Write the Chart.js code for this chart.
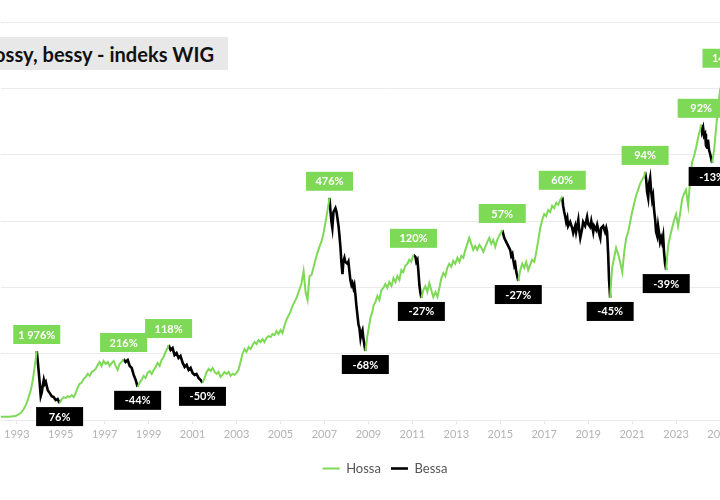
<!DOCTYPE html>
<html>
<head>
<meta charset="utf-8">
<script src="https://cdn.jsdelivr.net/npm/chart.js@4.4.1/dist/chart.umd.min.js"></script>
<style>
    html, body { margin: 0; padding: 0; background: #fff; overflow: hidden; width: 720px; height: 500px; }
    #wrap { position: absolute; left: 0; top: 0; width: 770px; height: 500px; }
    #title {
        position: absolute; left: 0; top: 37px; width: 228px; height: 33px;
        background: #e8e8e8; display: flex; justify-content: flex-end; align-items: center;
        overflow: hidden; padding-right: 14px; box-sizing: border-box;
        font: bold 20.1px Lato, sans-serif; color: #111; white-space: nowrap;
    }
</style>
</head>
<body>
<div id="wrap"><canvas id="wigChart" width="770" height="500"></canvas></div>
<div id="title"><span>Hossy, bessy - indeks WIG</span></div>
<script>
// WIG index
const years = [
    1992.27, 1992.64, 1992.95, 1993.18, 1993.32, 1993.41, 1993.50, 1993.55, 1993.64, 1993.68,
    1993.73, 1993.77, 1993.82, 1993.86, 1993.91, 1993.95, 1994.00, 1994.05, 1994.09, 1994.14,
    1994.18, 1994.23, 1994.27, 1994.32, 1994.41, 1994.50, 1994.59, 1994.68, 1994.77, 1994.86,
    1994.95, 1995.05, 1995.14, 1995.23, 1995.32, 1995.41, 1995.50, 1995.59, 1995.68, 1995.77,
    1995.86, 1995.95, 1996.05, 1996.14, 1996.23, 1996.32, 1996.41, 1996.50, 1996.59, 1996.68,
    1996.77, 1996.86, 1996.95, 1997.05, 1997.14, 1997.23, 1997.32, 1997.41, 1997.50, 1997.59,
    1997.68, 1997.77, 1997.86, 1997.95, 1998.05, 1998.14, 1998.23, 1998.32, 1998.41, 1998.50,
    1998.59, 1998.68, 1998.77, 1998.86, 1998.95, 1999.05, 1999.14, 1999.23, 1999.32, 1999.41,
    1999.50, 1999.59, 1999.68, 1999.77, 1999.86, 1999.91, 2000.00, 2000.09, 2000.18, 2000.27,
    2000.36, 2000.45, 2000.55, 2000.64, 2000.73, 2000.82, 2000.91, 2001.00, 2001.09, 2001.18,
    2001.27, 2001.36, 2001.45, 2001.55, 2001.64, 2001.73, 2001.82, 2001.91, 2002.00, 2002.09,
    2002.18, 2002.27, 2002.36, 2002.45, 2002.55, 2002.64, 2002.73, 2002.82, 2002.91, 2003.00,
    2003.09, 2003.18, 2003.27, 2003.36, 2003.45, 2003.55, 2003.64, 2003.73, 2003.82, 2003.91,
    2004.00, 2004.09, 2004.18, 2004.27, 2004.36, 2004.45, 2004.55, 2004.64, 2004.73, 2004.82,
    2004.91, 2005.00, 2005.09, 2005.18, 2005.27, 2005.36, 2005.45, 2005.55, 2005.64, 2005.73,
    2005.82, 2005.95, 2006.05, 2006.14, 2006.23, 2006.32, 2006.41, 2006.50, 2006.59, 2006.68,
    2006.77, 2006.86, 2006.95, 2007.05, 2007.14, 2007.23, 2007.27, 2007.32, 2007.36, 2007.41,
    2007.50, 2007.55, 2007.59, 2007.64, 2007.68, 2007.73, 2007.77, 2007.82, 2007.86, 2007.91,
    2007.95, 2008.05, 2008.09, 2008.14, 2008.18, 2008.23, 2008.27, 2008.32, 2008.36, 2008.41,
    2008.45, 2008.50, 2008.55, 2008.59, 2008.64, 2008.68, 2008.73, 2008.77, 2008.82, 2008.86,
    2008.91, 2008.95, 2009.00, 2009.09, 2009.18, 2009.23, 2009.32, 2009.41, 2009.50, 2009.59,
    2009.68, 2009.77, 2009.86, 2009.95, 2010.05, 2010.14, 2010.23, 2010.32, 2010.41, 2010.50,
    2010.59, 2010.68, 2010.77, 2010.86, 2010.95, 2011.05, 2011.14, 2011.18, 2011.23, 2011.27,
    2011.32, 2011.36, 2011.41, 2011.50, 2011.59, 2011.68, 2011.77, 2011.86, 2011.95, 2012.05,
    2012.14, 2012.23, 2012.32, 2012.41, 2012.50, 2012.59, 2012.68, 2012.77, 2012.86, 2012.95,
    2013.05, 2013.14, 2013.23, 2013.32, 2013.41, 2013.50, 2013.59, 2013.68, 2013.77, 2013.86,
    2013.95, 2014.05, 2014.14, 2014.23, 2014.32, 2014.41, 2014.50, 2014.59, 2014.68, 2014.77,
    2014.86, 2014.95, 2015.05, 2015.09, 2015.18, 2015.27, 2015.36, 2015.45, 2015.50, 2015.55,
    2015.59, 2015.64, 2015.68, 2015.73, 2015.77, 2015.82, 2015.91, 2016.00, 2016.09, 2016.18,
    2016.27, 2016.36, 2016.45, 2016.55, 2016.64, 2016.73, 2016.82, 2016.91, 2017.00, 2017.09,
    2017.18, 2017.27, 2017.36, 2017.45, 2017.55, 2017.64, 2017.73, 2017.82, 2017.86, 2017.91,
    2017.95, 2018.00, 2018.05, 2018.09, 2018.18, 2018.27, 2018.32, 2018.41, 2018.45, 2018.55,
    2018.59, 2018.64, 2018.73, 2018.77, 2018.86, 2018.95, 2019.00, 2019.09, 2019.14, 2019.23,
    2019.27, 2019.36, 2019.41, 2019.50, 2019.55, 2019.59, 2019.68, 2019.77, 2019.82, 2019.86,
    2019.91, 2019.95, 2020.00, 2020.05, 2020.09, 2020.18, 2020.27, 2020.36, 2020.45, 2020.55,
    2020.64, 2020.73, 2020.82, 2020.91, 2021.00, 2021.09, 2021.18, 2021.27, 2021.36, 2021.45,
    2021.55, 2021.59, 2021.64, 2021.68, 2021.73, 2021.77, 2021.82, 2021.86, 2021.91, 2021.95,
    2022.00, 2022.05, 2022.09, 2022.14, 2022.18, 2022.23, 2022.27, 2022.32, 2022.36, 2022.41,
    2022.45, 2022.50, 2022.55, 2022.59, 2022.64, 2022.73, 2022.82, 2022.91, 2023.00, 2023.09,
    2023.18, 2023.27, 2023.36, 2023.45, 2023.55, 2023.64, 2023.73, 2023.82, 2023.91, 2024.00,
    2024.09, 2024.14, 2024.18, 2024.23, 2024.27, 2024.32, 2024.36, 2024.41, 2024.45, 2024.50,
    2024.55, 2024.59, 2024.64, 2024.73, 2024.82, 2024.91, 2025.00, 2025.09, 2025.18, 2025.27,
    2025.36
];
const wig = [
    1000, 1000, 1200, 2100, 3300, 4500, 6000, 7200, 9000, 10300,
    12100, 13900, 16300, 18100, 20800, 18100, 14500, 10600, 7200, 8400,
    10300, 12100, 10900, 11500, 9000, 8100, 7200, 6900, 6000, 6300,
    5100, 6300, 6900, 6600, 7200, 6900, 7500, 6900, 8100, 9700,
    10900, 11200, 12400, 13000, 13900, 13300, 14500, 14800, 15400, 16600,
    17500, 16300, 17800, 16900, 17500, 16300, 17200, 17800, 16300, 15100,
    16900, 17500, 18400, 17500, 18100, 16300, 15700, 13600, 12100, 10000,
    11200, 12100, 13300, 12700, 14200, 14800, 13900, 15100, 16000, 17200,
    16300, 18100, 19000, 20500, 21700, 22600, 21100, 21700, 19600, 20200,
    18700, 19300, 17200, 16000, 16600, 15100, 15700, 14200, 13600, 13900,
    12700, 12100, 11200, 12700, 14500, 15400, 14800, 15700, 14500, 13900,
    14500, 13000, 13600, 14500, 13900, 14500, 13300, 13900, 13600, 14200,
    15100, 17500, 19900, 21400, 20500, 22000, 21400, 22600, 23500, 22900,
    24100, 23500, 24400, 23500, 24700, 25300, 25000, 25900, 25600, 26800,
    25900, 27100, 26200, 28400, 30200, 31400, 32600, 34400, 35600, 36800,
    38600, 41000, 44900, 38600, 36200, 43400, 43700, 45900, 48300, 50400,
    52200, 53700, 56100, 59700, 63300, 67000, 63300, 59700, 57900, 62700,
    63900, 62700, 60900, 58500, 55800, 51900, 47700, 44000, 47700, 48900,
    47700, 47100, 47700, 44600, 42200, 40700, 41300, 39800, 40700, 37700,
    34700, 31700, 28700, 27800, 24700, 26200, 27100, 24700, 22600, 20800,
    22900, 25300, 27100, 30800, 32600, 34400, 35600, 37400, 36200, 39200,
    39800, 41000, 39800, 41600, 40400, 42800, 41600, 43400, 42200, 45200,
    44600, 46500, 47100, 48300, 47700, 49800, 49200, 47700, 48300, 45200,
    40700, 38600, 36800, 39200, 40400, 38600, 41300, 39200, 37100, 38600,
    37100, 39800, 42800, 44300, 43400, 45900, 47100, 46200, 48000, 47100,
    48900, 47700, 49500, 48900, 51300, 53100, 54900, 53100, 51300, 52500,
    51300, 52800, 51900, 50700, 52200, 53700, 54900, 53100, 54300, 52200,
    54300, 55500, 56700, 57300, 54900, 53700, 52500, 51300, 49500, 50100,
    48300, 46500, 47100, 44600, 43400, 41900, 45200, 47100, 45900, 47700,
    45200, 46800, 48300, 47700, 50700, 54300, 57900, 60300, 62100, 61500,
    63300, 62700, 64600, 63900, 65500, 64900, 66400, 67300, 64600, 62700,
    61500, 59700, 60900, 58500, 59700, 57900, 56400, 58500, 56700, 60300,
    57300, 54900, 57900, 59700, 58500, 61200, 59100, 58200, 60000, 56700,
    58500, 57300, 58800, 56100, 54900, 57900, 58500, 56700, 57900, 56700,
    49800, 42200, 36800, 42200, 45900, 48900, 51900, 50100, 47700, 44600,
    50700, 54900, 56700, 59700, 62700, 65200, 67600, 69400, 71200, 72400,
    73600, 74800, 72400, 68800, 67000, 71200, 73000, 69400, 66400, 67600,
    63300, 60300, 56700, 55500, 58500, 56100, 53700, 54900, 53700, 55500,
    50700, 47100, 45200, 48900, 52500, 55500, 57900, 60300, 62100, 58500,
    62100, 66400, 68200, 69400, 64600, 72400, 77800, 79600, 82100, 85100,
    87500, 89000, 86900, 88100, 85700, 86300, 82700, 82100, 84500, 81400,
    80200, 79000, 77500, 81400, 88100, 94100, 99500, 101400, 102600, 104100,
    102600
];

// bear markets (black), start = bull peak, end = bear trough
const bearStart = [1993.91, 1997.86, 1999.91, 2007.23, 2011.05, 2015.09, 2017.82, 2021.59, 2024.14];
const bearEnd = [1994.95, 1998.50, 2001.45, 2008.86, 2011.41, 2015.82, 2020.00, 2022.55, 2024.64];
const peakYears = [...bearStart, 2025.27];
const bullLabels = ['1 976%', '216%', '118%', '476%', '120%', '57%', '60%', '94%', '92%', '145%'];
const bearLabels = ['76%', '-44%', '-50%', '-68%', '-27%', '-27%', '-45%', '-39%', '-13%'];
const tickYears = [1993, 1995, 1997, 1999, 2001, 2003, 2005, 2007, 2009, 2011, 2013, 2015, 2017, 2019, 2021, 2023, 2025];

const GREEN = '#7ed957';
const BLACK = '#000000';

const inBear = (yr, strict) => bearStart.some((s, i) =>
    strict ? (yr > s && yr < bearEnd[i]) : (yr >= s && yr <= bearEnd[i]));

const hossa = years.map((yr, i) => ({ x: yr, y: inBear(yr, true) ? null : wig[i] }));
const bessa = years.map((yr, i) => ({ x: yr, y: inBear(yr, false) ? wig[i] : null }));

const wigAt = yr => wig[years.indexOf(yr)];

function drawBox(ctx, cx, top, fill, text) {
    const w = 47, h = 19;
    ctx.fillStyle = fill;
    ctx.fillRect(cx - w / 2, top, w, h);
    ctx.fillStyle = '#fff';
    ctx.fillText(text, cx, top + h / 2 + 0.5);
}

const boxLabels = {
    id: 'boxLabels',
    afterDatasetsDraw(chart) {
        const { ctx, scales: { x, y } } = chart;
        ctx.save();
        ctx.font = 'bold 11px Lato, sans-serif';
        ctx.textAlign = 'center';
        ctx.textBaseline = 'middle';
        peakYears.forEach((yr, i) => {
            const px = x.getPixelForValue(yr);
            const py = y.getPixelForValue(wigAt(yr));
            drawBox(ctx, px, py - 7 - 19, GREEN, bullLabels[i]);
        });
        bearEnd.forEach((yr, i) => {
            const px = x.getPixelForValue(yr);
            const py = y.getPixelForValue(wigAt(yr));
            drawBox(ctx, px, py + 4, BLACK, bearLabels[i]);
        });
        ctx.restore();
    }
};

new Chart(document.getElementById('wigChart'), {
    type: 'line',
    data: {
        datasets: [
            { label: 'Hossa', data: hossa, borderColor: GREEN, backgroundColor: GREEN, borderWidth: 2, pointRadius: 0, tension: 0, spanGaps: false },
            { label: 'Bessa', data: bessa, borderColor: BLACK, backgroundColor: BLACK, borderWidth: 2.6, pointRadius: 0, tension: 0, spanGaps: false }
        ]
    },
    options: {
        responsive: false,
        animation: false,
        devicePixelRatio: 1,
        layout: { padding: { top: 22, bottom: 15, left: 0, right: 0 } },
        plugins: {
            tooltip: { enabled: false },
            legend: {
                position: 'bottom',
                labels: {
                    usePointStyle: true,
                    pointStyle: 'line',
                    pointStyleWidth: 17,
                    color: '#555',
                    font: { family: 'Lato', size: 13 },
                    padding: 10
                }
            }
        },
        scales: {
            x: {
                type: 'linear',
                min: 1993 - 16 / 22,
                max: 1993 - 16 / 22 + 770 / 22,
                afterBuildTicks: s => { s.ticks = tickYears.map(v => ({ value: v })); },
                afterFit: s => { s.height = 32; },
                grid: { display: true, drawOnChartArea: false, drawTicks: true, tickLength: 4, color: '#e6e6e6' },
                border: { display: false },
                ticks: {
                    color: '#b3b3b3',
                    font: { family: 'Lato', size: 11 },
                    padding: 4,
                    maxRotation: 0,
                    autoSkip: false,
                    callback: v => String(v)
                }
            },
            y: {
                min: 0,
                max: 120000,
                afterFit: s => { s.width = 0; },
                ticks: { display: false, stepSize: 20000 },
                grid: { color: '#ebebeb', drawTicks: false },
                border: { display: false }
            }
        }
    },
    plugins: [boxLabels]
});
</script>
</body>
</html>
